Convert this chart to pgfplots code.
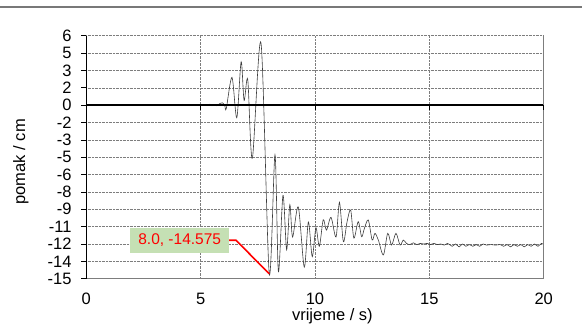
\documentclass[border=0pt]{standalone}
\usepackage{fontspec}
\setmainfont{Liberation Sans}
\usepackage{pgfplots}
\pgfplotsset{compat=1.18}
\definecolor{gridgray}{RGB}{125,125,125}
\definecolor{boxgreen}{RGB}{197,224,180}
\definecolor{linegray}{RGB}{60,60,60}
\newcommand{\tfont}{\fontsize{16.5}{19}\selectfont}
\begin{document}
\begin{tikzpicture}
\useasboundingbox (0,0) rectangle (582pt,332pt);
\draw[color={rgb,255:red,120;green,120;blue,120}, line width=2pt] (0,324.5pt) -- (582pt,324.5pt);
\begin{axis}[
  at={(86.3pt,53.3pt)}, anchor=south west,
  scale only axis, width=457.4pt, height=243pt,
  xmin=0, xmax=20, ymin=-15, ymax=6,
  xtick={0,5,10,15,20},
  ytick={-15,-13.5,-12,-10.5,-9,-7.5,-6,-4.5,-3,-1.5,0,1.5,3,4.5,6},
  yticklabels={-15,-14,-12,-11,-9,-8,-6,-5,-3,-2,0,2,3,5,6},
  grid=major,
  major grid style={gridgray, densely dotted, line width=0.5pt},
  axis line style={draw=none},
  tick align=outside,
  ytick pos=left, xtick pos=bottom,
  major tick length=5pt,
  xtick style={draw=none},
  ytick style={black, line width=0.6pt},
  /pgf/number format/assume math mode=true,
  xticklabel style={font=\tfont, anchor=north, inner sep=0pt, yshift=-9pt},
  yticklabel style={font=\tfont, anchor=east, inner sep=0pt, xshift=-9.6pt},
  xlabel={vrijeme / s)},
  ylabel={pomak / cm},
  xlabel style={font=\tfont, at={(axis description cs:0.538,0)}, anchor=center, yshift=-37.3pt},
  ylabel style={font=\tfont, at={(axis description cs:-0.1428,0.481)}, anchor=center},
  clip=false,
]
\addplot[linegray, line width=0.6pt, smooth, tension=0.5] coordinates {
(0,0) (4.0,0) (4.3,0.05) (4.5,0) (5.3,0) (5.4,0.08) (5.5,-0.05) (5.6,0.05) (5.7,-0.05)
(5.85,0.15) (5.95,0.2) (6.05,0) (6.12,-0.3) (6.37,2.4) (6.58,-1.1) (6.77,3.75) (6.9,0.4)
(7.06,2.2) (7.26,-4.6) (7.64,5.35) (8.0,-14.575) (8.25,-4.3) (8.4,-14.4) (8.6,-7.8)
(8.76,-12.5) (8.9,-8.6) (9.02,-11.4) (9.27,-8.8) (9.53,-14.0) (9.71,-10.1) (9.88,-13.1)
(10.04,-10.6) (10.19,-12.2) (10.36,-9.9) (10.5,-10.8) (10.7,-9.7) (10.92,-11.4)
(11.07,-8.4) (11.24,-11.8) (11.4,-10.1) (11.56,-9.07) (11.7,-11.5) (11.89,-10.07)
(12.04,-11.37) (12.16,-10.65) (12.33,-9.93) (12.5,-11.66) (12.62,-11.08) (12.77,-11.66)
(12.99,-12.95) (13.18,-11.08) (13.35,-12.09) (13.54,-11.08) (13.72,-12.09) (13.86,-11.66)
(14.0,-11.95) (14.15,-12.05) (14.3,-11.9) (14.45,-12.05) (14.6,-11.95) (14.75,-12.0)
(14.9,-11.95) (15.05,-12.05) (15.2,-11.95) (15.35,-12.05) (15.5,-12.0) (15.65,-12.1)
(15.8,-11.95) (16.0,-12.2) (16.15,-12.0) (16.3,-12.25) (16.45,-12.0) (16.6,-12.2)
(16.75,-12.05) (16.9,-12.2) (17.05,-12.05) (17.2,-12.2) (17.35,-12.0) (17.5,-12.1)
(17.7,-12.05) (17.9,-12.1) (18.1,-12.05) (18.25,-12.2) (18.4,-12.05) (18.55,-12.25)
(18.7,-12.05) (18.85,-12.2) (19.0,-12.05) (19.15,-12.25) (19.3,-12.05) (19.45,-12.2)
(19.6,-12.0) (19.75,-12.2) (19.9,-11.95) (20.0,-12.05)
};
\addplot[black, line width=2.2pt, forget plot] coordinates {(0,0) (20,0)};
\draw[gridgray, line width=0.7pt] (rel axis cs:0,0) -- (rel axis cs:1,0) -- (rel axis cs:1,1);
\draw[black, line width=0.8pt] (rel axis cs:0,0) -- (rel axis cs:0,1);
\pgfplotsinvokeforeach{0,5,10,15,20}{
  \draw[black, line width=0.8pt] (axis cs:#1,0) -- ++(0pt,-4.5pt);
}
\draw[red, line width=1.6pt] (axis cs:6.25,-11.68) -- (axis cs:6.546,-11.68) -- (axis cs:8.0,-14.575);
\node[fill=boxgreen, text=red, minimum width=99pt, minimum height=25pt, inner sep=0pt,
  font=\fontsize{15.5}{18}\selectfont] at (axis cs:4.084,-11.656) {8.0, -14.575};
\end{axis}
\end{tikzpicture}
\end{document}
